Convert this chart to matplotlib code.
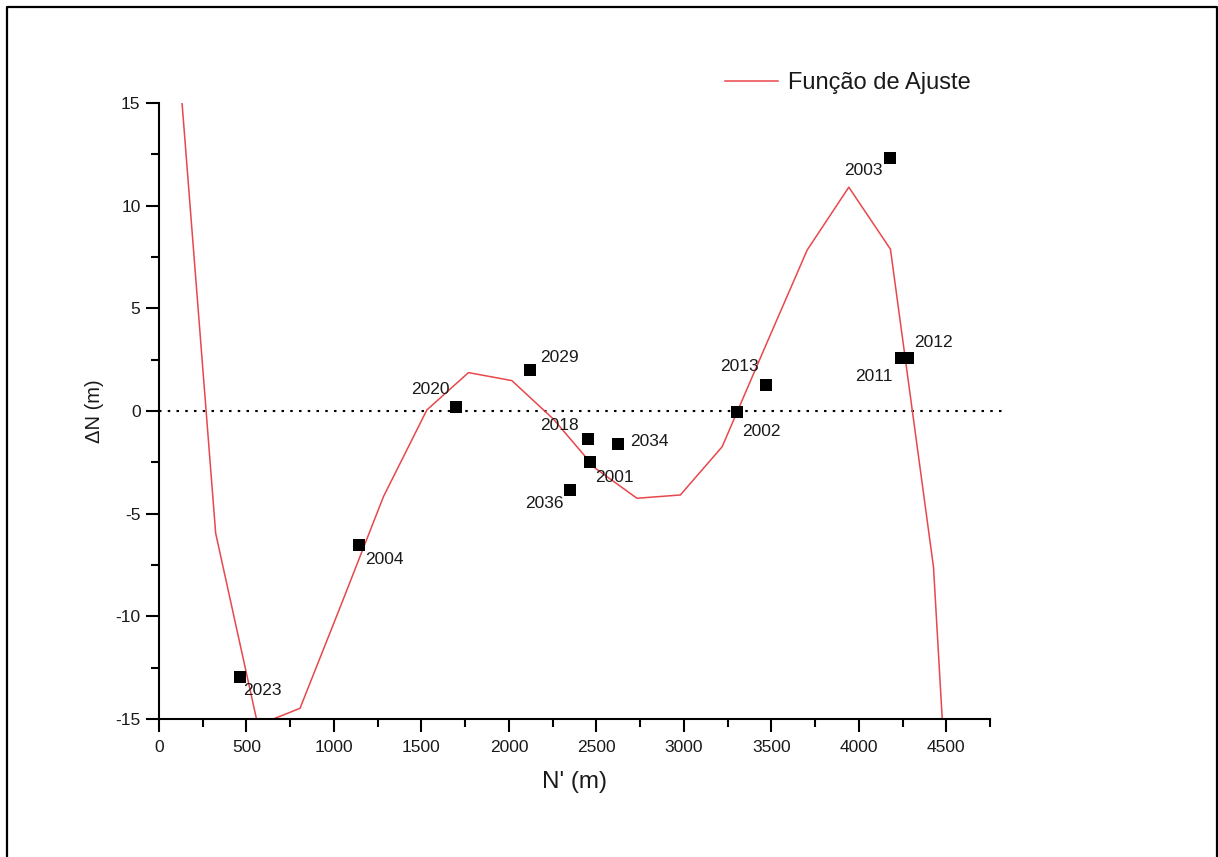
import matplotlib
matplotlib.use("Agg")
import matplotlib.pyplot as plt
from matplotlib.lines import Line2D
from matplotlib.ticker import MultipleLocator

plt.rcParams['font.family'] = ['Liberation Sans', 'DejaVu Sans']
plt.rcParams['axes.unicode_minus'] = False

# Observed points (N' in m, delta N in m) and their labels
point_labels = ["2023", "2004", "2020", "2029", "2018", "2001", "2036",
                "2034", "2002", "2013", "2011", "2012", "2003"]
point_x = [465, 1144, 1699, 2122, 2454, 2465, 2351, 2625, 3306, 3472, 4239, 4284, 4176]
point_y = [-12.96, -6.53, 0.19, 2.0, -1.36, -2.48, -3.85, -1.6, -0.05, 1.27, 2.58, 2.58, 12.32]

# Fitted function (polyline vertices)
fit_x = [84, 324, 565, 806, 1045, 1283, 1531, 1769, 2017, 2255, 2493, 2732,
         2980, 3219, 3462, 3705, 3943, 4181, 4427, 4670]
fit_y = [20.2, -5.96, -15.3, -14.48, -9.35, -4.17, 0.05, 1.87, 1.48, -0.4, -2.78,
         -4.25, -4.09, -1.74, 3.07, 7.84, 10.9, 7.88, -7.6, -43.6]

# label offsets in pixels (dx, dy) and horizontal alignment
label_offsets = {
    "2023": (3, -13, 'left'), "2004": (6, -14, 'left'), "2020": (-7, 18, 'right'),
    "2029": (10, 12, 'left'), "2018": (-10, 13, 'right'), "2001": (5, -16, 'left'),
    "2036": (-7, -13, 'right'), "2034": (12, 2, 'left'), "2002": (5, -19, 'left'),
    "2013": (-8, 18, 'right'), "2011": (-8, -18, 'right'), "2012": (6, 16, 'left'),
    "2003": (-7, -12, 'right'),
}

W, H = 1218, 857
fig = plt.figure(figsize=(W / 100, H / 100), dpi=100)
ax = fig.add_axes([159 / W, 1 - 719 / H, (990 - 159) / W, (719 - 103) / H])

ax.plot(fit_x, fit_y, color='#e8474b', lw=1.1, label='Função de Ajuste', zorder=2)
ax.hlines(0, 0, 4830, colors='black', linestyles=(0, (1.2, 3.0)), lw=1.5,
          clip_on=False, zorder=1)
ax.plot(point_x, point_y, linestyle='none', marker='s', ms=8.6, mew=0,
        color='black', zorder=3)

for lab, x, y in zip(point_labels, point_x, point_y):
    dx, dy, ha = label_offsets[lab]
    ax.annotate(lab, (x, y), xytext=(dx, dy), textcoords='offset pixels',
                ha=ha, va='center', fontsize=12.5, color='#1a1a1a')

ax.set_xlim(0, 4750)
ax.set_ylim(-15, 15)
ax.xaxis.set_major_locator(MultipleLocator(500))
ax.xaxis.set_minor_locator(MultipleLocator(250))
ax.yaxis.set_major_locator(MultipleLocator(5))
ax.yaxis.set_minor_locator(MultipleLocator(2.5))

for s in ['top', 'right']:
    ax.spines[s].set_visible(False)
for s in ['left', 'bottom']:
    ax.spines[s].set_linewidth(1.5)

ax.tick_params(which='major', direction='out', length=9.3, width=1.5,
               labelsize=12.5, pad=4, colors='black', labelcolor='#1a1a1a')
ax.tick_params(which='minor', direction='out', length=5.6, width=1.5)
ax.tick_params(axis='x', which='major', pad=6)

ax.set_xlabel("N' (m)", fontsize=17.5, labelpad=11, color='#1a1a1a')
ax.set_ylabel("ΔN (m)", fontsize=14.5, labelpad=8, color='#1a1a1a')

leg = ax.legend(loc='upper left', bbox_to_anchor=(725 / W, 1 - 72 / H),
                bbox_transform=fig.transFigure, frameon=False, fontsize=17,
                handlelength=2.25, handletextpad=0.4, borderaxespad=0,
                borderpad=0)
for t in leg.get_texts():
    t.set_color('#1a1a1a')

# outer frame (no bottom edge)
fx = [7 / W, 7 / W, 1217 / W, 1217 / W]
fy = [0, 1 - 7 / H, 1 - 7 / H, 0]
fig.add_artist(Line2D(fx, fy, transform=fig.transFigure, color='black', lw=1.6))

fig.savefig('out.png', dpi=100)
